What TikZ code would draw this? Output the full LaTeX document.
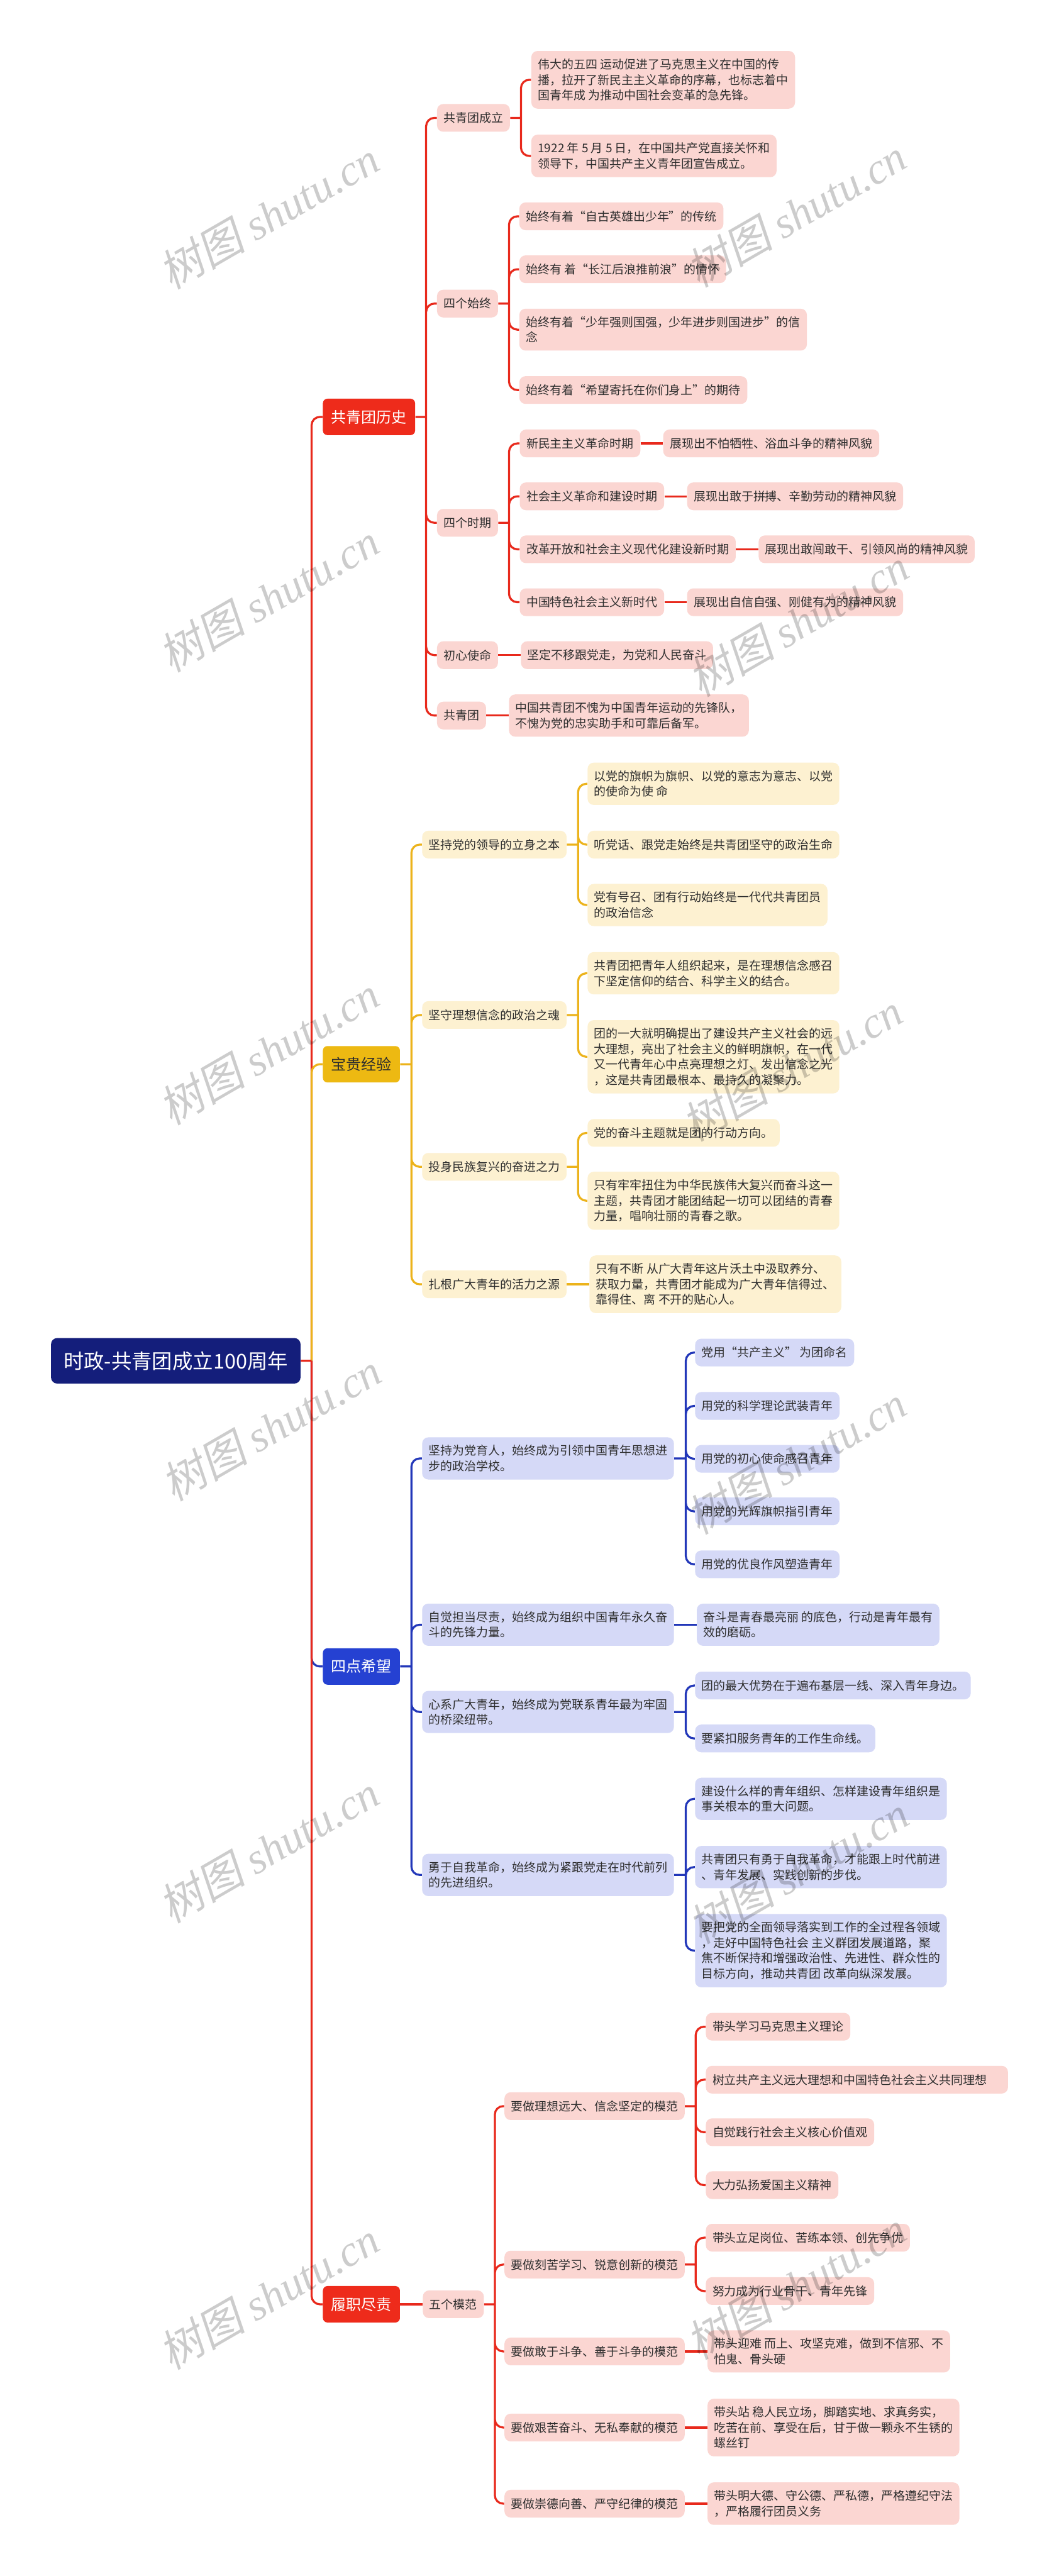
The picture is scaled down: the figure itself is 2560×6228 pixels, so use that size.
\documentclass[tikz,border=0pt]{standalone}
\usepackage{fontspec}
\setmainfont{Noto Sans CJK SC}
\newfontfamily\wmcjk{Noto Sans CJK SC}[FakeSlant=0.2]
\newfontfamily\wmlatin{Liberation Serif}
\usetikzlibrary{positioning}
\definecolor{navy}{HTML}{141E7B}
\definecolor{tomato}{HTML}{EE2B1B}
\definecolor{redline}{HTML}{E8291C}
\definecolor{blush}{HTML}{FBD6D2}
\definecolor{amber}{HTML}{EDB912}
\definecolor{amberline}{HTML}{ECB31B}
\definecolor{cream}{HTML}{FDF1D1}
\definecolor{royal}{HTML}{2541D2}
\definecolor{royalline}{HTML}{2237B9}
\definecolor{lavender}{HTML}{D5D9F7}
\definecolor{ink}{HTML}{2E2E2E}

\begin{document}
\begin{tikzpicture}[x=0.01cm,y=-0.01cm,
    font=\fontsize{8.2pt}{10.6pt}\selectfont,
    leaf/.style={rounded corners=0.15cm,inner xsep=0.16cm,inner ysep=0.19cm,
      minimum height=0.67cm,align=left,anchor=west,text=ink},
    pinkbox/.style={leaf,fill=blush},
    creambox/.style={leaf,fill=cream},
    lilacbox/.style={leaf,fill=lavender},
    topic/.style={rounded corners=0.11cm,inner xsep=0.2cm,minimum height=0.88cm,
      anchor=west,font=\fontsize{10.4pt}{12pt}\selectfont},
    redl/.style={draw=redline,line width=1.4pt,rounded corners=0.2cm},
    amberl/.style={draw=amberline,line width=1.4pt,rounded corners=0.2cm},
    royall/.style={draw=royalline,line width=1.4pt,rounded corners=0.2cm},
    wmark/.style={rotate=30,text=black,text opacity=0.2,inner sep=0pt,
      font=\fontsize{30pt}{30pt}\selectfont}
  ]
  \useasboundingbox (0,0) rectangle (2560,6228);
  \fill[white] (0,0) rectangle (2560,6228);

  % root and main topics
  \node[fill=navy,text=white,rounded corners=0.15cm,minimum width=6.03cm,
    minimum height=1.1cm,font=\fontsize{14pt}{16pt}\selectfont] (root) at (425,3290) {时政-共青团成立100周年};
  \node[topic,fill=tomato,text=white] (hist) at (780,1008) {共青团历史};
  \node[topic,fill=amber,text=ink] (exp) at (780,2573) {宝贵经验};
  \node[topic,fill=royal,text=white] (hope) at (780,4029) {四点希望};
  \node[topic,fill=tomato,text=white] (duty) at (780,5571) {履职尽责};

  % 共青团历史
  \node[pinkbox] (found) at (1056,285) {共青团成立};
  \node[pinkbox] (always) at (1056,734) {四个始终};
  \node[pinkbox] (period) at (1056,1264) {四个时期};
  \node[pinkbox] (mission) at (1056,1584) {初心使命};
  \node[pinkbox] (league) at (1056,1730) {共青团};

  \node[pinkbox] (found1) at (1284,193) {伟大的五四 运动促进了马克思主义在中国的传\\播，拉开了新民主主义革命的序幕，也标志着中\\国青年成 为推动中国社会变革的急先锋。};
  \node[pinkbox] (found2) at (1284,377) {1922 年 5 月 5 日，在中国共产党直接关怀和\\领导下，中国共产主义青年团宣告成立。};

  \node[pinkbox] (always1) at (1255,523) {始终有着“自古英雄出少年”的传统};
  \node[pinkbox] (always2) at (1255,651) {始终有 着“长江后浪推前浪”的情怀};
  \node[pinkbox] (always3) at (1255,797) {始终有着“少年强则国强，少年进步则国进步”的信\\念};
  \node[pinkbox] (always4) at (1255,943) {始终有着“希望寄托在你们身上”的期待};

  \node[pinkbox] (era1) at (1256,1072) {新民主主义革命时期};
  \node[pinkbox] (era2) at (1256,1200) {社会主义革命和建设时期};
  \node[pinkbox] (era3) at (1256,1328) {改革开放和社会主义现代化建设新时期};
  \node[pinkbox] (era4) at (1256,1456) {中国特色社会主义新时代};
  \node[pinkbox,right=0.54cm of era1] (spirit1) {展现出不怕牺牲、浴血斗争的精神风貌};
  \node[pinkbox,right=0.54cm of era2] (spirit2) {展现出敢于拼搏、辛勤劳动的精神风貌};
  \node[pinkbox,right=0.54cm of era3] (spirit3) {展现出敢闯敢干、引领风尚的精神风貌};
  \node[pinkbox,right=0.54cm of era4] (spirit4) {展现出自信自强、刚健有为的精神风貌};

  \node[pinkbox,right=0.54cm of mission] (mission1) {坚定不移跟党走，为党和人民奋斗};
  \node[pinkbox,right=0.54cm of league] (league1) {中国共青团不愧为中国青年运动的先锋队，\\不愧为党的忠实助手和可靠后备军。};

  % 宝贵经验
  \node[creambox] (lead) at (1020,2042) {坚持党的领导的立身之本};
  \node[creambox] (ideal) at (1020,2454) {坚守理想信念的政治之魂};
  \node[creambox] (revive) at (1020,2821) {投身民族复兴的奋进之力};
  \node[creambox] (youth) at (1020,3105) {扎根广大青年的活力之源};

  \node[creambox] (lead1) at (1420,1895) {以党的旗帜为旗帜、以党的意志为意志、以党\\的使命为使 命};
  \node[creambox] (lead2) at (1420,2042) {听党话、跟党走始终是共青团坚守的政治生命};
  \node[creambox] (lead3) at (1420,2188) {党有号召、团有行动始终是一代代共青团员\\的政治信念};
  \node[creambox] (ideal1) at (1420,2353) {共青团把青年人组织起来，是在理想信念感召\\下坚定信仰的结合、科学主义的结合。};
  \node[creambox] (ideal2) at (1420,2555) {团的一大就明确提出了建设共产主义社会的远\\大理想，亮出了社会主义的鲜明旗帜，在一代\\又一代青年心中点亮理想之灯、发出信念之光\\，这是共青团最根本、最持久的凝聚力。};
  \node[creambox] (revive1) at (1420,2739) {党的奋斗主题就是团的行动方向。};
  \node[creambox] (revive2) at (1420,2903) {只有牢牢扭住为中华民族伟大复兴而奋斗这一\\主题，共青团才能团结起一切可以团结的青春\\力量，唱响壮丽的青春之歌。};
  \node[creambox,right=0.54cm of youth] (youth1) {只有不断 从广大青年这片沃土中汲取养分、\\获取力量，共青团才能成为广大青年信得过、\\靠得住、离 不开的贴心人。};

  % 四点希望
  \node[lilacbox] (school) at (1020,3526) {坚持为党育人，始终成为引领中国青年思想进\\步的政治学校。};
  \node[lilacbox] (vanguard) at (1020,3928) {自觉担当尽责，始终成为组织中国青年永久奋\\斗的先锋力量。};
  \node[lilacbox] (bridge) at (1020,4139) {心系广大青年，始终成为党联系青年最为牢固\\的桥梁纽带。};
  \node[lilacbox] (reform) at (1020,4533) {勇于自我革命，始终成为紧跟党走在时代前列\\的先进组织。};

  \node[lilacbox] (school1) at (1680,3270) {党用“共产主义” 为团命名};
  \node[lilacbox] (school2) at (1680,3399) {用党的科学理论武装青年};
  \node[lilacbox] (school3) at (1680,3527) {用党的初心使命感召青年};
  \node[lilacbox] (school4) at (1680,3654) {用党的光辉旗帜指引青年};
  \node[lilacbox] (school5) at (1680,3782) {用党的优良作风塑造青年};
  \node[lilacbox,right=0.54cm of vanguard] (vanguard1) {奋斗是青春最亮丽 的底色，行动是青年最有\\效的磨砺。};
  \node[lilacbox] (bridge1) at (1680,4075) {团的最大优势在于遍布基层一线、深入青年身边。};
  \node[lilacbox] (bridge2) at (1680,4203) {要紧扣服务青年的工作生命线。};
  \node[lilacbox] (reform1) at (1680,4349) {建设什么样的青年组织、怎样建设青年组织是\\事关根本的重大问题。};
  \node[lilacbox] (reform2) at (1680,4514) {共青团只有勇于自我革命，才能跟上时代前进\\、青年发展、实践创新的步伐。};
  \node[lilacbox] (reform3) at (1680,4716) {要把党的全面领导落实到工作的全过程各领域\\，走好中国特色社会 主义群团发展道路，聚\\焦不断保持和增强政治性、先进性、群众性的\\目标方向，推动共青团 改革向纵深发展。};

  % 履职尽责
  \node[pinkbox,right=0.54cm of duty] (model) {五个模范};
  \node[pinkbox] (model1) at (1219,5092) {要做理想远大、信念坚定的模范};
  \node[pinkbox] (model2) at (1219,5475) {要做刻苦学习、锐意创新的模范};
  \node[pinkbox] (model3) at (1219,5685) {要做敢于斗争、善于斗争的模范};
  \node[pinkbox] (model4) at (1219,5869) {要做艰苦奋斗、无私奉献的模范};
  \node[pinkbox] (model5) at (1219,6053) {要做崇德向善、严守纪律的模范};

  \node[pinkbox] (belief1) at (1706,4900) {带头学习马克思主义理论};
  \node[pinkbox,text width=6.98cm] (belief2) at (1706,5028) {树立共产主义远大理想和中国特色社会主义共同理想};
  \node[pinkbox] (belief3) at (1706,5155) {自觉践行社会主义核心价值观};
  \node[pinkbox] (belief4) at (1706,5283) {大力弘扬爱国主义精神};
  \node[pinkbox] (study1) at (1706,5410) {带头立足岗位、苦练本领、创先争优};
  \node[pinkbox] (study2) at (1706,5539) {努力成为行业骨干、青年先锋};
  \node[pinkbox,right=0.54cm of model3] (fight1) {带头迎难 而上、攻坚克难，做到不信邪、不\\怕鬼、骨头硬};
  \node[pinkbox,right=0.54cm of model4] (toil1) {带头站 稳人民立场，脚踏实地、求真务实，\\吃苦在前、享受在后，甘于做一颗永不生锈的\\螺丝钉};
  \node[pinkbox,right=0.54cm of model5] (moral1) {带头明大德、守公德、严私德，严格遵纪守法\\，严格履行团员义务};

  % connectors
  \coordinate (rf) at ([xshift=0.26cm]root.east);
  \draw[redl] (rf) |- (hist.west);
  \draw[amberl] (rf) |- (exp.west);
  \draw[royall] (rf) |- (hope.west);
  \draw[redl] (root.east) -- (rf) (rf) |- (duty.west);

  \coordinate (hf) at ([xshift=0.26cm]hist.east);
  \draw[redl] (hist.east) -- (hf) (hf) |- (found.west) (hf) |- (always.west)
    (hf) |- (period.west) (hf) |- (mission.west) (hf) |- (league.west);
  \coordinate (ff) at ([xshift=0.26cm]found.east);
  \draw[redl] (found.east) -- (ff) (ff) |- (found1.west) (ff) |- (found2.west);
  \coordinate (af) at ([xshift=0.26cm]always.east);
  \draw[redl] (always.east) -- (af) (af) |- (always1.west) (af) |- (always2.west)
    (af) |- (always3.west) (af) |- (always4.west);
  \coordinate (pf) at ([xshift=0.26cm]period.east);
  \draw[redl] (period.east) -- (pf) (pf) |- (era1.west) (pf) |- (era2.west)
    (pf) |- (era3.west) (pf) |- (era4.west);
  \draw[redl] (era1) -- (spirit1);
  \draw[redl] (era2) -- (spirit2);
  \draw[redl] (era3) -- (spirit3);
  \draw[redl] (era4) -- (spirit4);
  \draw[redl] (mission) -- (mission1);
  \draw[redl] (league) -- (league1);

  \coordinate (ef) at ([xshift=0.27cm]exp.east);
  \draw[amberl] (exp.east) -- (ef) (ef) |- (lead.west) (ef) |- (ideal.west)
    (ef) |- (revive.west) (ef) |- (youth.west);
  \coordinate (lf) at ([xshift=0.27cm]lead.east);
  \draw[amberl] (lead.east) -- (lf) (lf) |- (lead1.west) (lf) |- (lead2.west) (lf) |- (lead3.west);
  \coordinate (if) at ([xshift=0.27cm]ideal.east);
  \draw[amberl] (ideal.east) -- (if) (if) |- (ideal1.west) (if) |- (ideal2.west);
  \coordinate (vf) at ([xshift=0.27cm]revive.east);
  \draw[amberl] (revive.east) -- (vf) (vf) |- (revive1.west) (vf) |- (revive2.west);
  \draw[amberl] (youth) -- (youth1);

  \coordinate (wf) at ([xshift=0.27cm]hope.east);
  \draw[royall] (hope.east) -- (wf) (wf) |- (school.west) (wf) |- (vanguard.west)
    (wf) |- (bridge.west) (wf) |- (reform.west);
  \coordinate (sf) at ([xshift=0.28cm]school.east);
  \draw[royall] (school.east) -- (sf) (sf) |- (school1.west) (sf) |- (school2.west)
    (sf) |- (school3.west) (sf) |- (school4.west) (sf) |- (school5.west);
  \draw[royall] (vanguard) -- (vanguard1);
  \coordinate (bf) at ([xshift=0.28cm]bridge.east);
  \draw[royall] (bridge.east) -- (bf) (bf) |- (bridge1.west) (bf) |- (bridge2.west);
  \coordinate (gf) at ([xshift=0.28cm]reform.east);
  \draw[royall] (reform.east) -- (gf) (gf) |- (reform1.west) (gf) |- (reform2.west) (gf) |- (reform3.west);

  \draw[redl] (duty) -- (model);
  \coordinate (mf) at ([xshift=0.26cm]model.east);
  \draw[redl] (model.east) -- (mf) (mf) |- (model1.west) (mf) |- (model2.west)
    (mf) |- (model3.west) (mf) |- (model4.west) (mf) |- (model5.west);
  \coordinate (of) at ([xshift=0.26cm]model1.east);
  \draw[redl] (model1.east) -- (of) (of) |- (belief1.west) (of) |- (belief2.west)
    (of) |- (belief3.west) (of) |- (belief4.west);
  \coordinate (qf) at ([xshift=0.26cm]model2.east);
  \draw[redl] (model2.east) -- (qf) (qf) |- (study1.west) (qf) |- (study2.west);
  \draw[redl] (model3) -- (fight1);
  \draw[redl] (model4) -- (toil1);
  \draw[redl] (model5) -- (moral1);

  % watermark
  \foreach \wx/\wy [count=\i] in {650/520,1925/515,650/1445,1930/1505,650/2540,1915/2580,
      655/3450,1925/3530,650/4470,1930/4520,650/5550,1925/5525}
    \node[wmark] (wm\i) at (\wx,\wy) {{\wmcjk 树图} {\wmlatin\itshape shutu.cn}};
\end{tikzpicture}
\end{document}
